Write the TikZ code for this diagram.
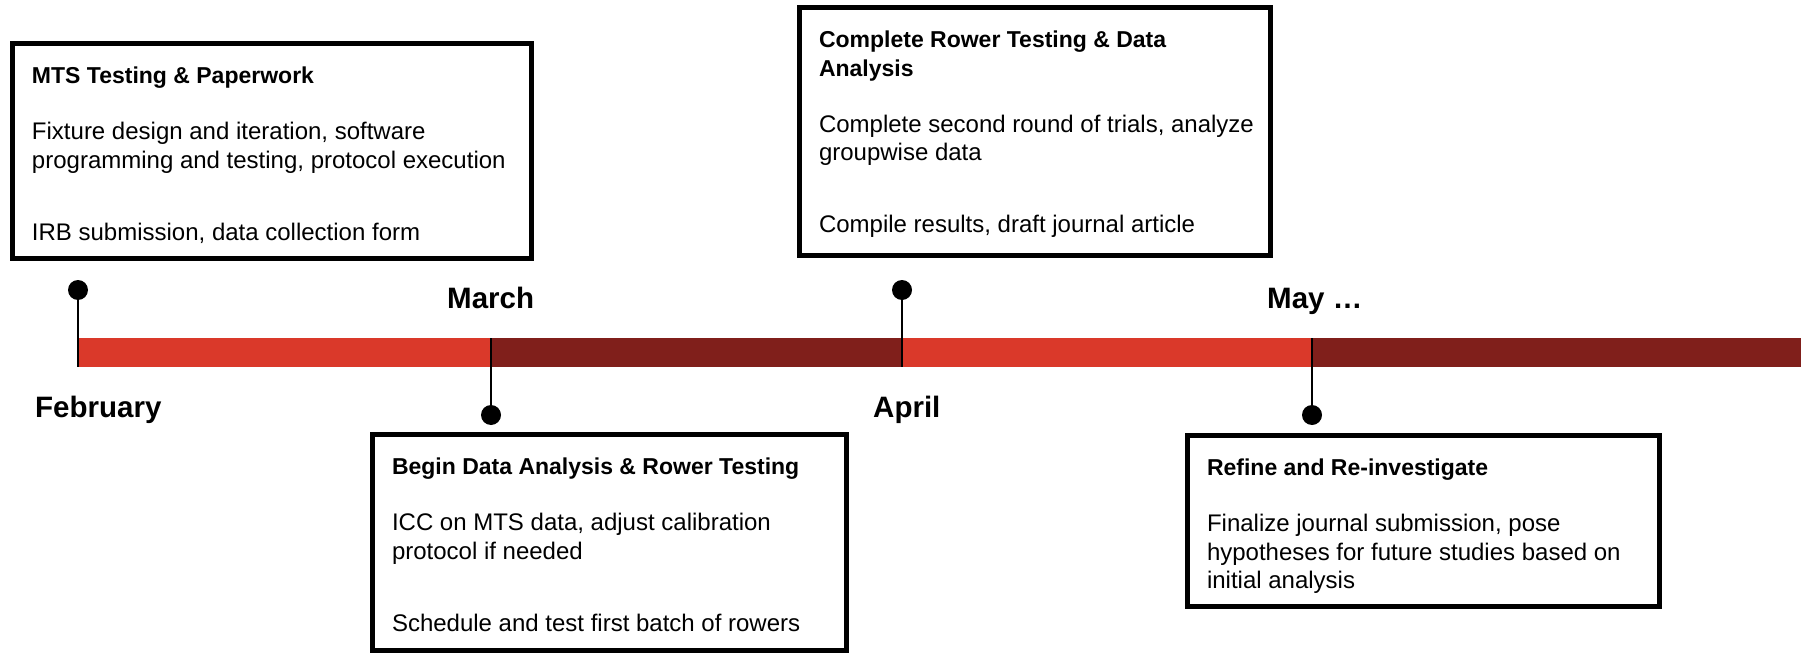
\documentclass[tikz,border=0pt]{standalone}
\usepackage{fontspec}
\setmainfont{Liberation Sans}

\definecolor{barred}{RGB}{218,57,42}
\definecolor{bardark}{RGB}{128,31,27}

\newcommand{\evtitle}{\fontsize{23}{28.5}\bfseries\selectfont}
\newcommand{\evbody}{\fontsize{24}{28.5}\selectfont}
% width, height, contents of one milestone box
\newcommand{\evtext}[3]{\parbox[t][#2][t]{#1}{\evbody\raggedright\leftskip=19.5pt\vspace*{20.5pt}#3}}

\begin{document}
\begin{tikzpicture}[x=1pt,y=-1pt,
        event/.style={draw, line width=5pt, inner sep=0pt, outer sep=0pt, anchor=north west},
        month/.style={font=\fontsize{29.5}{34}\bfseries\selectfont, inner sep=0pt, anchor=base west},
        dot/.style={circle, fill=black, minimum size=20pt, inner sep=0pt},
        tick/.style={line width=2pt}]
    \useasboundingbox (0,0) rectangle (1801,655);

          % the bar
          \fill[barred] (78,338) rectangle (492,367);
          \fill[bardark] (492,338) rectangle (902,367);
          \fill[barred] (902,338) rectangle (1312,367);
          \fill[bardark] (1312,338) rectangle (1801,367);

          \coordinate (tfeb) at (78,367);
          \coordinate (tmar) at (491,338);
          \coordinate (tapr) at (902,367);
          \coordinate (tmay) at (1312,338);

          \node[dot] (dfeb) at (78,290) {};
          \node[dot] (dmar) at (491,415) {};
          \node[dot] (dapr) at (902,290) {};
          \node[dot] (dmay) at (1312,415) {};

          \draw[tick] (dfeb) -- (tfeb);
          \draw[tick] (tmar) -- (dmar);
          \draw[tick] (dapr) -- (tapr);
          \draw[tick] (tmay) -- (dmay);

          \node[month] (feb) at (35,417) {February};
          \node[month] (mar) at (447,308) {March};
          \node[month] (apr) at (873,417) {April};
          \node[month] (may) at (1267,308) {May …};

          \node[event] (mts) at (12.5,43.5) {\evtext{519pt}{215pt}{%
            {\evtitle\strut MTS Testing \& Paperwork\par}\vspace{27.5pt}
            Fixture design and iteration, software\\
            programming and testing, protocol execution\par\vspace{43.5pt}
            IRB submission, data collection form}};

          \node[event] (begin) at (372.5,434.5) {\evtext{474pt}{216pt}{%
            {\evtitle\strut Begin Data Analysis \& Rower Testing\par}\vspace{27.5pt}
            ICC on MTS data, adjust calibration\\
            protocol if needed\par\vspace{43.5pt}
            Schedule and test first batch of rowers}};

          \node[event] (compl) at (799.5,7.5) {\evtext{471pt}{248pt}{%
            {\evtitle\strut Complete Rower Testing \& Data\\
            Analysis\par}\vspace{27.5pt}
            Complete second round of trials, analyze\\
            groupwise data\par\vspace{43.5pt}
            Compile results, draft journal article}};

          \node[event] (refine) at (1187.5,435.5) {\evtext{472pt}{171pt}{%
            {\evtitle\strut Refine and Re-investigate\par}\vspace{27.5pt}
            Finalize journal submission, pose\\
            hypotheses for future studies based on\\
            initial analysis}};
        \end{tikzpicture}
\end{document}
